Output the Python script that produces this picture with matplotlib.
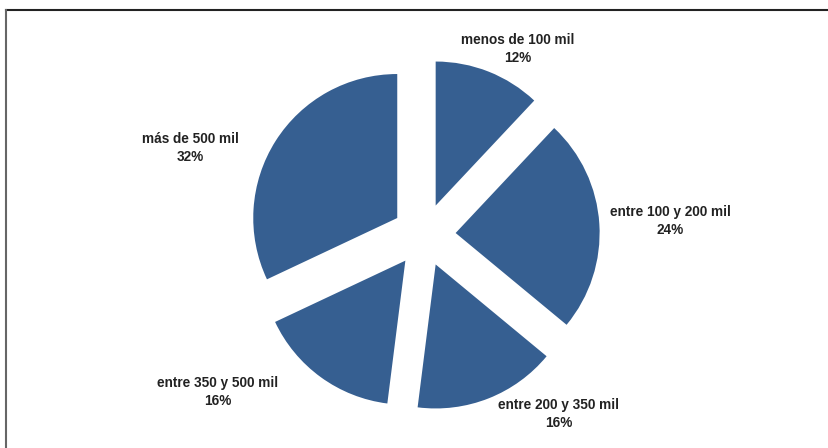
import matplotlib.pyplot as plt
from matplotlib.lines import Line2D

# tramos de ingreso y porcentaje de cada uno
categorias = ["menos de 100 mil", "entre 100 y 200 mil", "entre 200 y 350 mil",
              "entre 350 y 500 mil", "más de 500 mil"]
porcentajes = [12, 24, 16, 16, 32]

# posiciones de las etiquetas (fracción de la figura)
pos_etiquetas = [(518 / 829, 1 - 49 / 448), (670 / 829, 1 - 221 / 448),
                 (559 / 829, 1 - 414 / 448), (218 / 829, 1 - 392 / 448),
                 (190 / 829, 1 - 148 / 448)]

color = "#365f91"
W, H = 829, 448
R = 144.0          # radio en pixeles
cx, cy = 424.0, 235.0

fig = plt.figure(figsize=(W / 100, H / 100), dpi=100)
ax = fig.add_axes([0, 0, 1, 1])
ax.pie(porcentajes, colors=[color] * len(porcentajes), startangle=90,
       counterclock=False, explode=[0.22] * len(porcentajes),
       wedgeprops=dict(linewidth=0))
ax.set_xlim(-cx / R, (W - cx) / R)
ax.set_ylim(-(H - cy) / R, cy / R)
ax.set_aspect("auto")
ax.axis("off")

for cat, p, (x, y) in zip(categorias, porcentajes, pos_etiquetas):
    fig.text(x, y, f"{cat}\n{p}%", ha="center", va="center",
             family=["Liberation Sans", "DejaVu Sans"],
             fontweight="bold", fontsize=9.8, color="#222222", linespacing=1.42)

# marco superior e izquierdo
fig.add_artist(Line2D([6.5 / W, 1], [1 - 10.5 / H, 1 - 10.5 / H],
                      transform=fig.transFigure, color="#222222", lw=1.5))
fig.add_artist(Line2D([6.5 / W, 6.5 / W], [0, 1 - 10.5 / H],
                      transform=fig.transFigure, color="#666666", lw=1.5))

fig.savefig("out.png", dpi=100)
